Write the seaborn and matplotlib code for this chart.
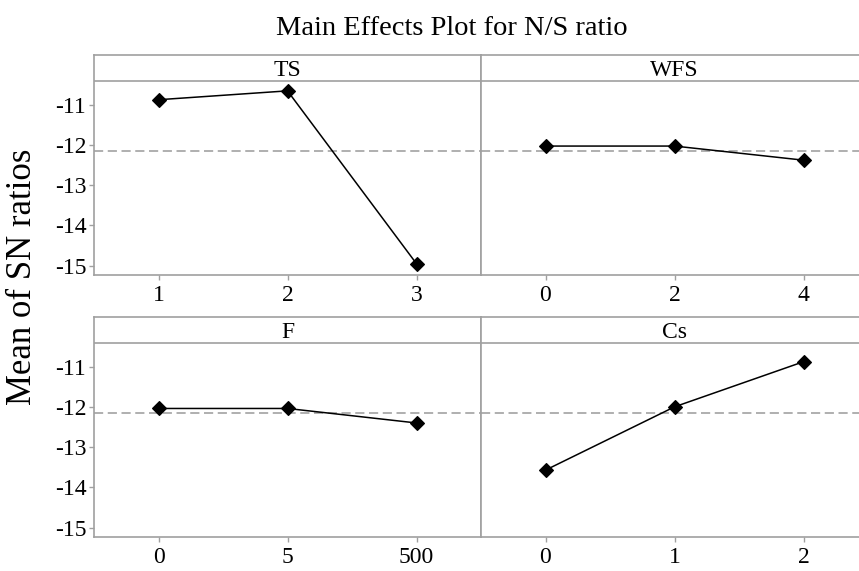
import matplotlib
matplotlib.use("Agg")
import matplotlib.pyplot as plt
import matplotlib.transforms as mtransforms
import seaborn as sns

# factors and their levels (tick labels)
FACTORS = ["TS", "WFS", "F", "Cs"]
TS_LEVELS = ["1", "2", "3"]
WFS_LEVELS = ["0", "2", "4"]
F_LEVELS = ["0", "5", "500"]
CS_LEVELS = ["0", "1", "2"]

# mean of SN ratios per level
TS_SN = [-10.88, -10.66, -14.95]
WFS_SN = [-12.03, -12.03, -12.38]
F_SN = [-12.04, -12.04, -12.40]
CS_SN = [-13.57, -12.00, -10.88]

GRAND_MEAN = -12.15

LEVELS = [TS_LEVELS, WFS_LEVELS, F_LEVELS, CS_LEVELS]
VALUES = [TS_SN, WFS_SN, F_SN, CS_SN]

FRAME = "#a0a0a0"
Y_BOTTOM = -15.23
Y_STRIP = -10.42   # bottom of the header strip
Y_TOP = -9.77

sns.set_theme(style="white")
plt.rcParams["font.family"] = ["Liberation Serif", "DejaVu Serif"]
plt.rcParams["axes.unicode_minus"] = False
plt.rcParams["text.color"] = "black"
plt.rcParams["xtick.labelcolor"] = "black"
plt.rcParams["ytick.labelcolor"] = "black"

fig = plt.figure(figsize=(8.59, 5.71), dpi=100)
W, H = 859, 571

# axes boxes in pixels: (left, top), all the same size
boxes = [(94, 55), (481, 55), (94, 317), (481, 317)]
ax_w, ax_h = 387, 220

for i, (name, levels, vals) in enumerate(zip(FACTORS, LEVELS, VALUES)):
    left, top = boxes[i]
    ax = fig.add_axes([left / W, 1 - (top + ax_h) / H, ax_w / W, ax_h / H])

    sns.pointplot(x=levels, y=vals, color="black", marker="D", markersize=7,
                  linewidth=1.1, errorbar=None, ax=ax)

    ax.axhline(GRAND_MEAN, color="#9a9a9a", lw=1.1, ls=(0, (6, 3)), zorder=0)
    ax.axhline(Y_STRIP, color=FRAME, lw=1.2)

    trans = mtransforms.blended_transform_factory(ax.transAxes, ax.transData)
    ax.text(0.5, (Y_STRIP + Y_TOP) / 2, name, transform=trans,
            ha="center", va="center_baseline", fontsize=17, color="black")

    ax.set_xlim(-0.5, 2.5)
    ax.set_ylim(Y_BOTTOM, Y_TOP)
    ax.set_yticks([-11, -12, -13, -14, -15])
    ax.set_xlabel("")
    ax.set_ylabel("")

    for sp in ax.spines.values():
        sp.set_color(FRAME)
        sp.set_linewidth(1.2)

    ax.tick_params(axis="x", bottom=True, length=3.5, width=1, color=FRAME,
                   labelcolor="black", labelsize=17, pad=4)
    if i % 2 == 0:
        ax.tick_params(axis="y", left=True, length=3.5, width=1, color=FRAME,
                       labelcolor="black", labelsize=17, pad=2)
    else:
        ax.tick_params(axis="y", left=False, labelleft=False)

fig.text(452 / W, 1 - 35 / H, "Main Effects Plot for N/S ratio",
         ha="center", va="baseline", fontsize=20.5, color="black")
fig.text(23 / W, 1 - 277 / H, "Mean of SN ratios", rotation=90,
         ha="center", va="center", fontsize=25, color="black")

fig.savefig("out.png", dpi=100)
